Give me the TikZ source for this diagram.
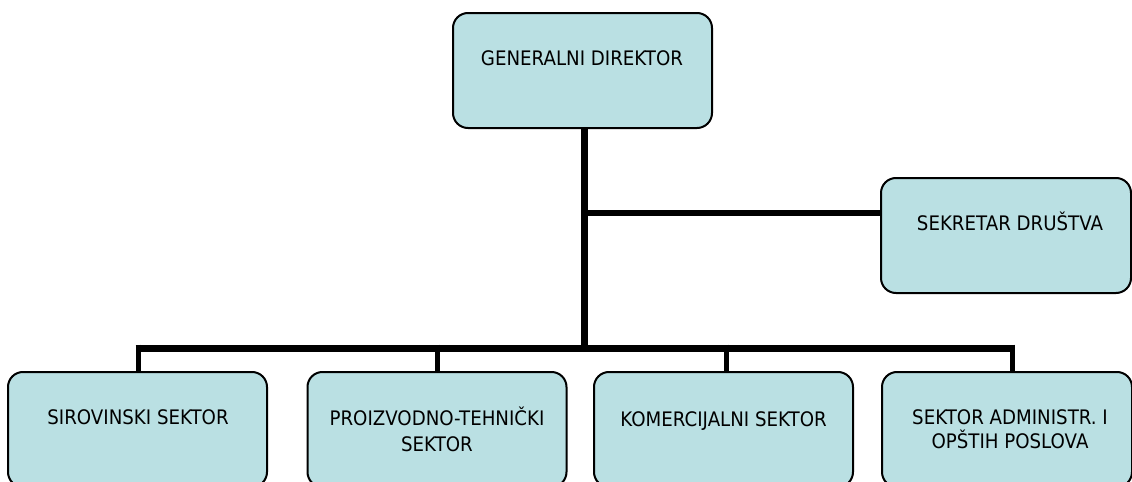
\documentclass[tikz,border=0pt]{standalone}
\usepackage{fontspec}
\setmainfont[FakeStretch=0.91]{DejaVu Sans}
\definecolor{boxfill}{RGB}{186,224,227}
\begin{document}
\begin{tikzpicture}[x=0.5pt,y=-0.5pt,
  box/.style={draw=black, line width=1pt, fill=boxfill, rounded corners=7.5pt,
    minimum width=129.5pt, minimum height=57.5pt, inner sep=0pt},
  lbl/.style={anchor=base, inner sep=0pt, font=\fontsize{10pt}{12pt}\selectfont},
  thick line/.style={line width=3.5pt},
  mid line/.style={line width=3pt},
  thin line/.style={line width=2.5pt}]
\clip (0,0) rectangle (1132,482);
\useasboundingbox (0,0) rectangle (1132,482);
% boxes
\node[box] (gd) at (582.5,70.5) {};
\node[box, minimum width=125pt] (sek) at (1006,235.5) {};
\node[box] (b1) at (137.5,429.5) {};
\node[box] (b2) at (437,429.5) {};
\node[box] (b3) at (723.5,429.5) {};
\node[box, minimum width=125pt] (b4) at (1007,429.5) {};
% labels
\node[lbl] (tgd) at (582,65) {GENERALNI DIREKTOR};
\node[lbl] (tsek) at (1010,230.5) {SEKRETAR DRUŠTVA};
\node[lbl] (t1) at (138,424) {SIROVINSKI SEKTOR};
\node[lbl] (t2a) at (437,425.5) {PROIZVODNO-TEHNIČKI};
\node[lbl] (t2b) at (437,451.5) {SEKTOR};
\node[lbl] (t3) at (723.6,426.5) {KOMERCIJALNI SEKTOR};
\node[lbl] (t4a) at (1010,424) {SEKTOR ADMINISTR. I};
\node[lbl] (t4b) at (1010,448.5) {OPŠTIH POSLOVA};
% connector points
\coordinate (bus) at (584,348);
\coordinate (sj) at (584,213);
\coordinate (d1) at (138,348);
\coordinate (d2) at (437,348);
\coordinate (d3) at (726,348);
\coordinate (d4) at (1012,348);
% connectors
\draw[thick line] (gd.south -| bus) -- (bus);
\draw[mid line] (sj) -- (sek.west |- sj);
\draw[thick line] ([xshift=-1.25pt]d1) -- ([xshift=1.25pt]d4);
\draw[thin line] ([yshift=1.75pt]d1) -- (d1 |- b1.north);
\draw[thin line] ([yshift=1.75pt]d2) -- (d2 |- b2.north);
\draw[thin line] ([yshift=1.75pt]d3) -- (d3 |- b3.north);
\draw[thin line] ([yshift=1.75pt]d4) -- (d4 |- b4.north);
\end{tikzpicture}
\end{document}
